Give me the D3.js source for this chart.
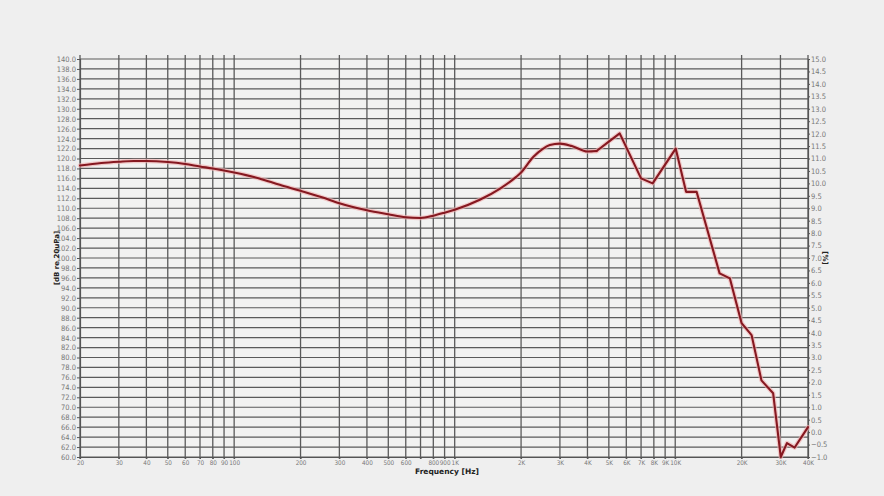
<!DOCTYPE html>
<html>
<head>
<meta charset="utf-8">
<script src="https://cdn.jsdelivr.net/npm/d3@7"></script>
<style>
  body { margin: 0; background: #efefef; }
  svg { display: block; font-family: "DejaVu Sans", sans-serif; }
  .tick text { font-family: "DejaVu Sans Condensed", "DejaVu Sans", sans-serif; font-stretch: condensed; }
</style>
</head>
<body>
<div id="chart"></div>
<script>
// frequency response
const freqs = [20, 25, 30, 35, 40, 50, 60, 70, 80, 100, 130, 161, 200, 250, 300, 400, 500, 600, 700, 800, 900, 1000,
  1300, 1600, 1900, 2000, 2270, 2500, 2700, 3000, 3400, 4000, 4400, 5000, 5600, 7000, 7900, 10050, 11200, 12500,
  15900, 17700, 20000, 22200, 24600, 27800, 30100, 32100, 34800, 40000];
const spl = [118.6, 119.1, 119.35, 119.5, 119.5, 119.3, 118.9, 118.4, 118.0, 117.2, 116.0, 114.7, 113.5, 112.2, 111.0, 109.6, 108.8, 108.2, 108.05, 108.5, 109.1, 109.7,
  111.7, 113.9, 116.3, 117.2, 120.3, 121.9, 122.7, 123.0, 122.5, 121.4, 121.5, 123.4, 125.05, 116.0, 115.0, 122.0, 113.3, 113.3,
  96.9, 95.9, 86.9, 84.5, 75.4, 72.8, 60.0, 62.8, 61.9, 66.0];

const freqTicks = [20, 30, 40, 50, 60, 70, 80, 90, 100, 200, 300, 400, 500, 600, 700, 800, 900, 1000,
  2000, 3000, 4000, 5000, 6000, 7000, 8000, 9000, 10000, 20000, 30000, 40000];
const freqLabels = ["20", "30", "40", "50", "60", "70", "80", "90", "100", "200", "300", "400", "500", "600", "", "800", "900", "1K",
  "2K", "3K", "4K", "5K", "6K", "7K", "8K", "9K", "10K", "20K", "30K", "40K"];
const dbTicks = d3.range(60, 140.01, 2);
const pctTicks = d3.range(-1, 15.01, 0.5);

const W = 884, H = 496;
const pLeft = 80, pRight = 808, pTop = 59, pBottom = 457;

const svg = d3.select("#chart").append("svg")
  .attr("width", W)
  .attr("height", H);

svg.append("rect").attr("width", W).attr("height", H).attr("fill", "#efefef");
svg.append("rect")
  .attr("x", pLeft).attr("y", pTop)
  .attr("width", pRight - pLeft).attr("height", pBottom - pTop)
  .attr("fill", "#f2f2f1");

const x = d3.scaleLog().domain([20, 40000]).range([pLeft, pRight]);
const y = d3.scaleLinear().domain([60, 140]).range([pBottom, pTop]);
const y2 = d3.scaleLinear().domain([-1, 15]).range([pBottom, pTop]);

// horizontal grid
svg.append("g").selectAll("line")
  .data(dbTicks)
  .enter().append("line")
  .attr("x1", pLeft).attr("x2", pRight)
  .attr("y1", d => y(d)).attr("y2", d => y(d))
  .attr("stroke", "#5a5a5a")
  .attr("stroke-width", 1.2);

// vertical grid, poking a little past the top
svg.append("g").selectAll("line")
  .data(freqTicks)
  .enter().append("line")
  .attr("x1", d => x(d)).attr("x2", d => x(d))
  .attr("y1", pTop - 4).attr("y2", pBottom + 2)
  .attr("stroke", "#5a5a5a")
  .attr("stroke-width", 1.3);

// left axis
const yAxis = d3.axisLeft(y).tickValues(dbTicks).tickFormat(d3.format(".1f")).tickSize(3).tickPadding(1);
const gl = svg.append("g").attr("transform", `translate(${pLeft},0)`).call(yAxis);

// right axis
const y2Axis = d3.axisRight(y2).tickValues(pctTicks).tickFormat(d3.format(".1f")).tickSize(2).tickPadding(1);
const gr = svg.append("g").attr("transform", `translate(${pRight},0)`).call(y2Axis);

// bottom axis
const xAxis = d3.axisBottom(x).tickValues(freqTicks).tickFormat((d, i) => freqLabels[i]).tickSize(2).tickPadding(2);
const gb = svg.append("g").attr("transform", `translate(0,${pBottom})`).call(xAxis);

[gl, gr, gb].forEach(g => {
  g.select(".domain").attr("stroke", "#555").attr("stroke-width", 1.2);
  g.selectAll(".tick line").attr("stroke", "#555");
  g.selectAll("text").attr("fill", "#777").style("font-size", "7.5px");
});
// smaller condensed face keeps 800 / 900 / 1K apart
gb.selectAll("text").style("font-size", "6.3px");

// titles
svg.append("text")
  .attr("transform", `translate(59,258) rotate(-90)`)
  .attr("text-anchor", "middle")
  .style("font-size", "7px").style("font-weight", "bold")
  .attr("fill", "#222")
  .text("[dB re 20uPa]");

svg.append("text")
  .attr("transform", `translate(823,258) rotate(90)`)
  .attr("text-anchor", "middle")
  .style("font-size", "7px").style("font-weight", "bold")
  .attr("fill", "#222")
  .text("[%]");

svg.append("text")
  .attr("x", 447).attr("y", 474)
  .attr("text-anchor", "middle")
  .style("font-size", "7.5px").style("font-weight", "bold")
  .attr("fill", "#222")
  .text("Frequency [Hz]");

// the response curve: smooth below ~4.4K, straight segments above (as in the original)
const pts = freqs.map((f, i) => [f, spl[i]]);
const lowPts = pts.filter(d => d[0] <= 4400);
const highPts = pts.filter(d => d[0] >= 4400);

const smooth = d3.line().curve(d3.curveMonotoneX).x(d => x(d[0])).y(d => y(d[1]));
const straight = d3.line().x(d => x(d[0])).y(d => y(d[1]));

function drawCurve(stroke, width, opacity) {
  [[lowPts, smooth], [highPts, straight]].forEach(([data, gen]) => {
    svg.append("path")
      .datum(data)
      .attr("d", gen)
      .attr("fill", "none")
      .attr("stroke", stroke)
      .attr("stroke-width", width)
      .attr("stroke-linejoin", "round")
      .attr("stroke-linecap", "round")
      .attr("opacity", opacity);
  });
}

drawCurve("#f0b0b0", 4.5, 0.65);
drawCurve("#861820", 2.1, 1);
</script>
</body>
</html>
